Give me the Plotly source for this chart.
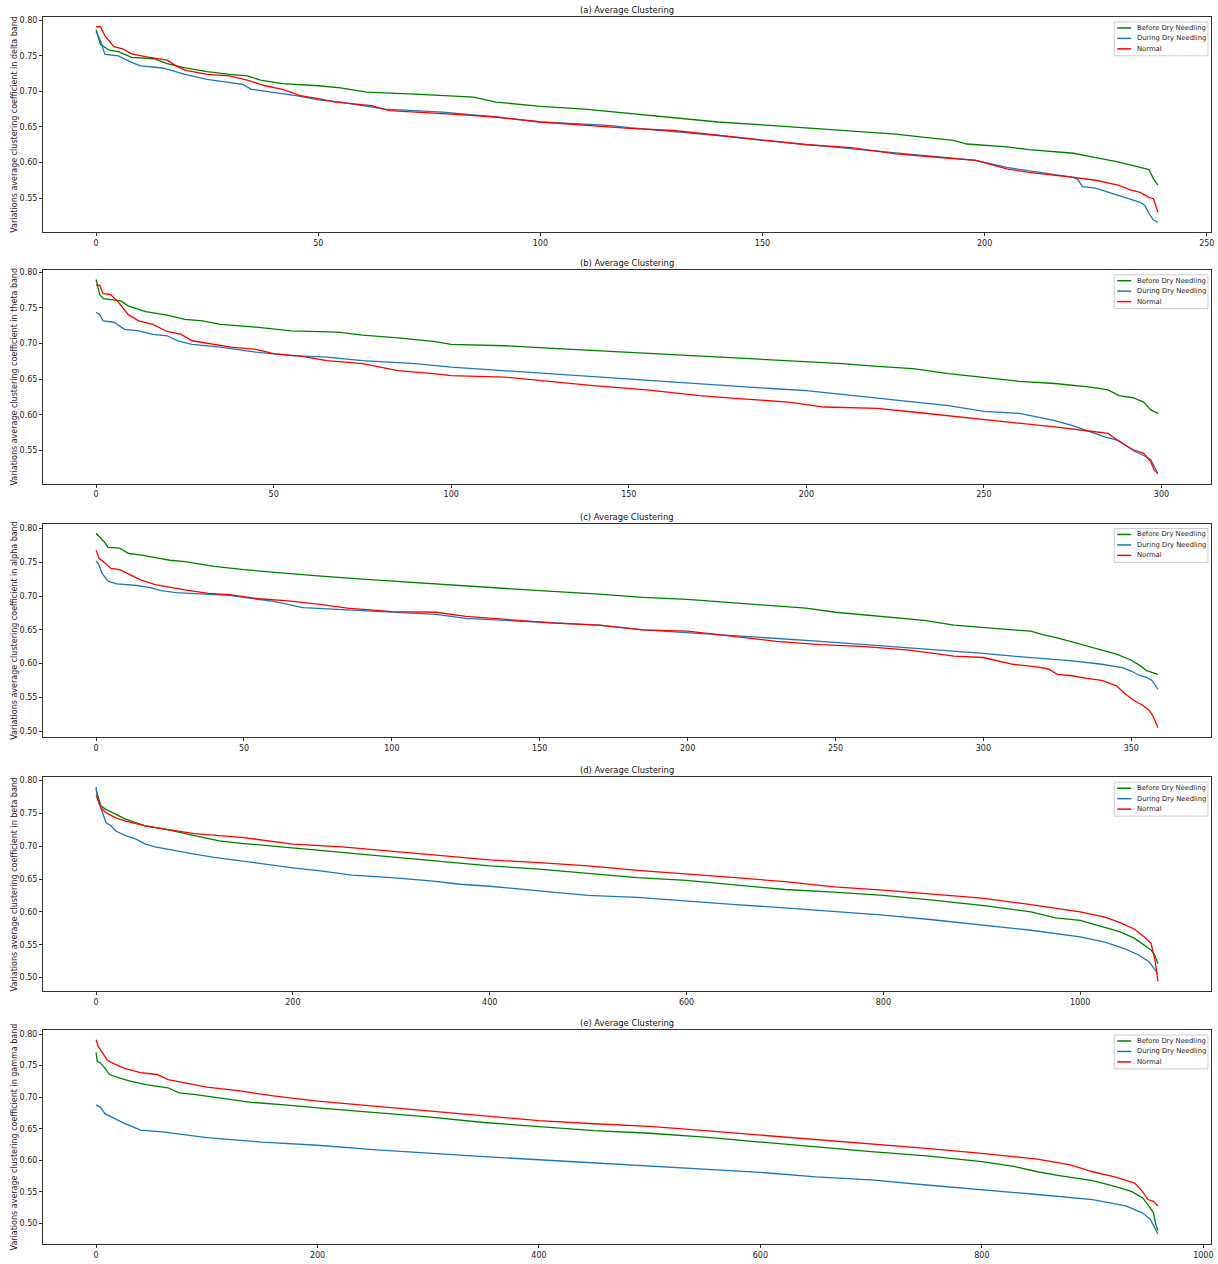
import plotly.graph_objects as go

# ---------------- data ----------------
SERIES_NAMES = ["Before Dry Needling", "During Dry Needling", "Normal"]
SERIES_COLORS = ["#008000", "#1f77b4", "#ff0000"]
BANDS = ["delta", "theta", "alpha", "beta", "gamma"]
TITLES = ["(a) Average Clustering", "(b) Average Clustering", "(c) Average Clustering",
          "(d) Average Clustering", "(e) Average Clustering"]
N_POINTS = [240, 300, 360, 1080, 960]
X_TICKS = [[0, 50, 100, 150, 200, 250],
           [0, 50, 100, 150, 200, 250, 300],
           [0, 50, 100, 150, 200, 250, 300, 350],
           [0, 200, 400, 600, 800, 1000],
           [0, 200, 400, 600, 800, 1000]]
Y_TICKS = [0.50, 0.55, 0.60, 0.65, 0.70, 0.75, 0.80]

# (a) delta band
a_before_x = [0, 1, 3, 5, 8, 13, 16, 20, 25, 30, 34, 37, 42, 50, 55, 61, 73, 85, 90, 100, 110, 120, 130,
              140, 150, 160, 170, 180, 187, 193, 196, 205, 210, 215, 220, 225, 230, 235, 237, 238, 239]
a_before_y = [.787, .766, .758, .756, .748, .746, .739, .733, .728, .724, .722, .716, .711, .708, .705, .699,
              .696, .692, .685, .679, .675, .669, .664, .657, .653, .649, .644, .640, .635, .631, .626, .622,
              .618, .616, .613, .607, .601, .593, .590, .577, .568]
a_during_x = [0, 1, 2, 5, 8, 10, 15, 20, 25, 30, 33, 35, 40, 45, 50, 55, 65, 78, 90, 100, 110, 116, 120, 130,
              140, 150, 160, 170, 180, 190, 198, 205, 212, 220, 221, 222, 225, 230, 233, 235, 236, 237, 238, 239]
a_during_y = [.784, .771, .752, .750, .741, .736, .733, .724, .717, .713, .710, .703, .699, .694, .688, .685,
              .675, .671, .664, .657, .654, .652, .649, .644, .638, .631, .625, .619, .613, .607, .603, .593,
              .586, .579, .576, .566, .564, .554, .549, .544, .540, .528, .519, .516]
a_normal_x = [0, 1, 2, 4, 6, 8, 12, 16, 18, 20, 25, 30, 34, 38, 42, 46, 50, 54, 62, 66, 80, 90, 100, 120, 130,
              140, 150, 160, 170, 180, 190, 198, 205, 210, 220, 225, 230, 233, 235, 237, 238, 239]
a_normal_y = [.791, .791, .778, .763, .760, .753, .748, .744, .736, .730, .724, .722, .716, .708, .703, .694,
              .690, .685, .680, .673, .668, .664, .657, .648, .645, .638, .631, .625, .621, .612, .607, .603,
              .591, .586, .579, .575, .568, .561, .558, .551, .549, .530]

# (b) theta band
b_before_x = [0, 1, 2, 7, 9, 14, 20, 25, 30, 35, 45, 55, 68, 75, 85, 95, 100, 115, 130, 145, 160, 175, 185,
              200, 210, 220, 230, 240, 250, 260, 270, 280, 285, 288, 292, 295, 297, 299]
b_before_y = [.790, .769, .763, .760, .753, .745, .740, .734, .732, .727, .723, .718, .716, .712, .708, .703,
              .699, .697, .693, .689, .685, .681, .678, .674, .672, .668, .665, .658, .652, .647, .644, .639,
              .635, .627, .624, .618, .607, .602]
b_during_x = [0, 1, 2, 5, 8, 12, 16, 20, 23, 27, 35, 45, 55, 65, 75, 90, 100, 115, 130, 145, 160, 175, 190,
              200, 210, 220, 230, 240, 250, 260, 270, 275, 280, 284, 288, 292, 295, 297, 299]
b_during_y = [.744, .741, .732, .730, .720, .718, .713, .711, .704, .699, .695, .688, .683, .681, .676, .672,
              .667, .662, .657, .651, .646, .641, .637, .634, .629, .624, .619, .613, .605, .602, .592, .585,
              .576, .569, .564, .550, .543, .537, .517]
b_normal_x = [0, 1, 2, 4, 6, 9, 12, 16, 20, 24, 27, 32, 38, 45, 50, 58, 65, 75, 85, 95, 100, 115, 125, 140,
              155, 170, 180, 195, 205, 220, 230, 240, 250, 260, 270, 280, 285, 288, 292, 295, 297, 298, 299]
b_normal_y = [.782, .782, .770, .769, .760, .741, .732, .727, .717, .713, .704, .700, .695, .692, .686, .682,
              .676, .672, .662, .658, .655, .653, .648, .641, .635, .627, .623, .618, .611, .609, .604, .599,
              .594, .588, .583, .577, .574, .563, .551, .546, .534, .522, .518]

# (c) alpha band
c_before_x = [0, 1, 3, 4, 8, 11, 15, 20, 25, 30, 40, 50, 60, 75, 90, 100, 115, 130, 150, 170, 185, 200, 215,
              225, 240, 250, 260, 270, 280, 290, 300, 310, 316, 320, 325, 330, 335, 340, 345, 350, 353, 355,
              357, 359]
c_before_y = [.793, .788, .779, .772, .771, .763, .761, .757, .753, .751, .744, .739, .735, .730, .725, .722,
              .718, .714, .708, .703, .698, .695, .690, .687, .682, .676, .672, .668, .664, .657, .654, .650,
              .648, .643, .638, .632, .626, .621, .614, .605, .597, .590, .587, .584]
c_during_x = [0, 1, 2, 4, 7, 13, 18, 22, 27, 35, 45, 50, 60, 70, 80, 100, 115, 125, 140, 155, 170, 185, 200,
              215, 230, 245, 260, 275, 290, 300, 310, 320, 330, 340, 347, 350, 353, 355, 357, 359]
c_during_y = [.752, .746, .734, .722, .718, .716, .713, .708, .705, .703, .701, .698, .692, .683, .681, .676,
              .673, .667, .664, .660, .657, .650, .646, .641, .637, .633, .628, .623, .619, .615, .611, .608,
              .604, .599, .594, .589, .582, .580, .575, .562]
c_normal_x = [0, 1, 3, 5, 8, 12, 15, 20, 25, 30, 38, 45, 55, 65, 75, 85, 100, 115, 125, 140, 155, 170, 185,
              200, 215, 230, 245, 260, 275, 290, 300, 305, 310, 318, 322, 325, 330, 335, 340, 345, 348, 351,
              354, 356, 357, 358, 359]
c_normal_y = [.768, .756, .749, .741, .739, .731, .724, .717, .713, .709, .704, .702, .696, .693, .688, .682,
              .677, .676, .670, .665, .660, .657, .650, .648, .641, .633, .628, .625, .620, .611, .609, .604,
              .599, .595, .592, .584, .582, .578, .575, .567, .555, .545, .538, .531, .525, .516, .505]

# (d) beta band
d_before_x = [0, 3, 5, 10, 20, 30, 50, 70, 100, 125, 150, 200, 250, 300, 350, 400, 450, 500, 550, 600, 650,
              700, 750, 800, 850, 900, 950, 975, 1000, 1020, 1040, 1055, 1065, 1072, 1076, 1079]
d_before_y = [.786, .770, .761, .756, .748, .741, .731, .726, .716, .708, .704, .697, .690, .684, .677, .670,
              .665, .659, .652, .648, .641, .634, .630, .625, .618, .610, .600, .591, .587, .578, .570, .560,
              .550, .542, .534, .521]
d_during_x = [0, 1, 3, 5, 10, 15, 20, 30, 40, 50, 60, 80, 100, 120, 150, 180, 200, 230, 260, 300, 340, 370,
              400, 450, 500, 550, 600, 650, 700, 750, 800, 850, 900, 950, 1000, 1025, 1045, 1060, 1070, 1075,
              1079]
d_during_y = [.790, .775, .765, .758, .736, .731, .723, .716, .711, .703, .699, .693, .688, .683, .677, .670,
              .667, .662, .656, .652, .647, .642, .639, .632, .625, .622, .616, .611, .606, .601, .595, .588,
              .580, .572, .562, .554, .544, .534, .524, .514, .506]
d_normal_x = [0, 3, 5, 10, 20, 30, 50, 70, 100, 150, 200, 250, 300, 350, 400, 450, 500, 550, 600, 650, 700,
              750, 800, 850, 900, 950, 1000, 1025, 1040, 1055, 1065, 1072, 1076, 1078, 1079]
d_normal_y = [.778, .765, .758, .751, .743, .738, .731, .726, .719, .713, .703, .699, .692, .685, .679, .675,
              .670, .663, .658, .652, .646, .638, .633, .627, .621, .611, .600, .592, .584, .574, .562, .552,
              .527, .506, .494]

# (e) gamma band
e_before_x = [0, 1, 4, 8, 12, 20, 30, 45, 65, 75, 90, 110, 140, 170, 200, 250, 300, 350, 400, 450, 500, 550,
              600, 650, 700, 750, 800, 830, 850, 870, 900, 920, 935, 945, 950, 955, 957, 959]
e_before_y = [.771, .757, .754, .746, .736, .731, .726, .720, .715, .707, .704, .699, .692, .688, .683, .676,
              .669, .660, .653, .647, .643, .637, .629, .621, .614, .607, .598, .590, .582, .576, .568, .559,
              .551, .541, .530, .517, .499, .489]
e_during_x = [0, 4, 8, 15, 25, 35, 40, 60, 80, 100, 150, 200, 250, 300, 350, 400, 450, 500, 550, 600, 650,
              700, 750, 800, 850, 900, 930, 945, 952, 956, 959]
e_during_y = [.688, .684, .674, .668, .659, .652, .648, .645, .640, .636, .629, .624, .617, .611, .606, .601,
              .596, .591, .586, .581, .574, .569, .561, .554, .546, .538, .528, .517, .507, .494, .483]
e_normal_x = [0, 2, 6, 10, 15, 25, 40, 55, 65, 80, 100, 130, 160, 200, 250, 300, 350, 400, 450, 500, 550,
              600, 650, 700, 750, 800, 850, 880, 900, 920, 930, 938, 945, 950, 955, 959]
e_normal_y = [.791, .780, .770, .759, .754, .746, .739, .736, .728, .723, .716, .710, .702, .694, .686, .679,
              .671, .663, .658, .654, .647, .640, .634, .627, .619, .611, .602, .593, .582, .574, .569, .564,
              .551, .538, .535, .528]

PANELS = [
    [(a_before_x, a_before_y), (a_during_x, a_during_y), (a_normal_x, a_normal_y)],
    [(b_before_x, b_before_y), (b_during_x, b_during_y), (b_normal_x, b_normal_y)],
    [(c_before_x, c_before_y), (c_during_x, c_during_y), (c_normal_x, c_normal_y)],
    [(d_before_x, d_before_y), (d_during_x, d_during_y), (d_normal_x, d_normal_y)],
    [(e_before_x, e_before_y), (e_during_x, e_during_y), (e_normal_x, e_normal_y)],
]

# ---------------- layout geometry ----------------
W, H = 1218, 1264
ML, MR, MT, MB = 43, 4, 17, 14
PLOT_W = W - ML - MR
PLOT_H = H - MT - MB
PANEL_TOP = [17, 271, 526, 781, 1035]
PANEL_BOT = [233, 486, 741, 996, 1250]

FONT = "DejaVu Sans, Liberation Sans, sans-serif"
AXC = "#333333"


def px_x(px):
    return (px - ML) / PLOT_W


def px_y(py):
    return (H - MB - py) / PLOT_H


fig = go.Figure()
shapes, annotations = [], []
layout = dict(
    width=W, height=H,
    margin=dict(l=ML, r=MR, t=MT, b=MB),
    paper_bgcolor="white", plot_bgcolor="white",
    font=dict(family=FONT, size=8, color="#222"),
    showlegend=False,
)

for i, panel in enumerate(PANELS):
    k = "" if i == 0 else str(i + 1)
    xa, ya = "x" + k, "y" + k
    dom_lo = px_y(PANEL_BOT[i])
    dom_hi = px_y(PANEL_TOP[i])

    allv = []
    for (xs, ys), name, col in zip(panel, SERIES_NAMES, SERIES_COLORS):
        allv += ys
        fig.add_trace(go.Scatter(x=xs, y=ys, mode="lines", name=name,
                                 line=dict(color=col, width=1.3),
                                 xaxis=xa, yaxis=ya))
    n = N_POINTS[i]
    xpad = 0.05 * (n - 1)
    ymin, ymax = min(allv), max(allv)
    ypad = 0.05 * (ymax - ymin)

    axis_common = dict(showgrid=False, zeroline=False, showline=True, mirror=True,
                       linecolor=AXC, linewidth=1, ticks="outside", ticklen=3,
                       tickcolor=AXC, tickfont=dict(size=8, color="#222", family=FONT))
    layout["xaxis" + k] = dict(axis_common, domain=[0, 1], anchor=ya,
                               range=[-xpad, (n - 1) + xpad],
                               tickvals=X_TICKS[i], ticktext=[str(v) for v in X_TICKS[i]])
    layout["yaxis" + k] = dict(axis_common, domain=[dom_lo, dom_hi], anchor=xa,
                               range=[ymin - ypad, ymax + ypad],
                               tickvals=Y_TICKS, ticktext=["%.2f" % v for v in Y_TICKS],
                               title=dict(text="Variations average clustering coefficient in %s band" % BANDS[i],
                                          font=dict(size=8, color="#222", family=FONT), standoff=0))
    annotations.append(dict(text=TITLES[i], xref="paper", yref="paper",
                            x=0.5, y=dom_hi, xanchor="center", yanchor="bottom",
                            showarrow=False, font=dict(size=8.4, color="#111", family=FONT)))

    # legend drawn in the upper-right corner of each panel
    top = PANEL_TOP[i]
    shapes.append(dict(type="rect", xref="paper", yref="paper",
                       x0=px_x(1117), x1=px_x(1211), y0=px_y(top + 39), y1=px_y(top + 5),
                       line=dict(color="#cccccc", width=1), fillcolor="rgba(255,255,255,0.85)",
                       layer="above"))
    for j, (name, col) in enumerate(zip(SERIES_NAMES, SERIES_COLORS)):
        yy = px_y(top + 11 + 10.5 * j)
        shapes.append(dict(type="line", xref="paper", yref="paper",
                           x0=px_x(1120), x1=px_x(1134), y0=yy, y1=yy,
                           line=dict(color=col, width=1.5), layer="above"))
        annotations.append(dict(text=name, xref="paper", yref="paper",
                                x=px_x(1138), y=yy, xanchor="left", yanchor="middle",
                                showarrow=False, font=dict(size=6.8, color="#222", family=FONT)))

layout["shapes"] = shapes
layout["annotations"] = annotations
fig.update_layout(**layout)
fig.write_html("out.html", config={"displayModeBar": False},
               post_script="document.body.style.margin='0';")
